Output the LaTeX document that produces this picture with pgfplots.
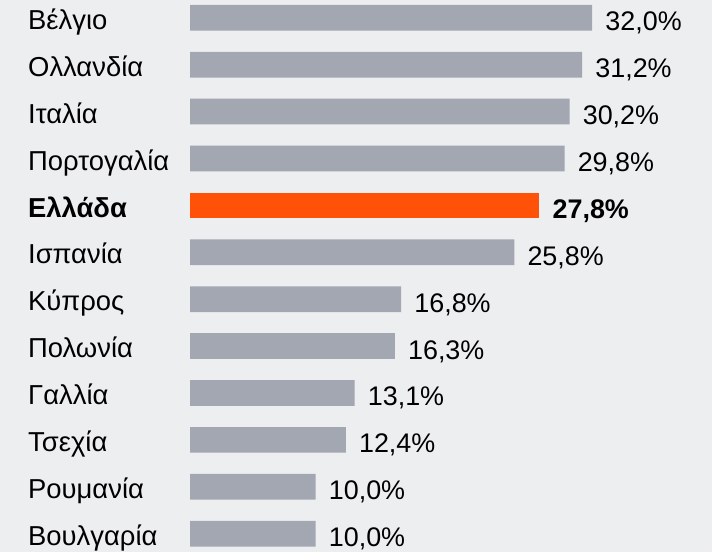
\documentclass[border=0pt]{standalone}
\usepackage{fontspec}
\setmainfont{Liberation Sans}
\usepackage{pgfplots}
\pgfplotsset{compat=1.18}
\definecolor{bg}{HTML}{EDEEF0}
\definecolor{barg}{HTML}{A2A7B2}
\definecolor{gr}{HTML}{FF5208}
\begin{document}
\begin{tikzpicture}
\path[use as bounding box] (0,0) rectangle (712bp,552bp);
\fill[bg] (0,0) rectangle (712bp,552bp);
\begin{axis}[at={(190bp,534.2bp)}, anchor=origin,
  x=12.57bp, y=46.9bp, xmin=0, xmax=35, ymin=-11.5, ymax=0.5,
  clip=false, axis line style={draw=none}, major tick length=0pt,
  xtick=\empty, ytick={-11,-10,...,0},
  yticklabels={Βουλγαρία,Ρουμανία,Τσεχία,Γαλλία,Πολωνία,Κύπρος,Ισπανία,{\bfseries Ελλάδα},Πορτογαλία,Ιταλία,Ολλανδία,Βέλγιο},
  yticklabel style={anchor=base west, inner sep=0pt, xshift=-162bp, yshift=-11.7bp, font=\fontsize{27.5}{32}\selectfont},
  xbar, bar width=25.7bp, bar shift=0pt,
  point meta=explicit symbolic, nodes near coords,
  nodes near coords style={anchor=base west, inner sep=0pt, xshift=13bp, yshift=-13bp, font=\fontsize{27}{32}\selectfont, text=black},
]
\addplot[draw=none, fill=barg] coordinates {
(32.0,0) [32,0\%]
(31.2,-1) [31,2\%]
(30.2,-2) [30,2\%]
(29.8,-3) [29,8\%]
(25.8,-5) [25,8\%]
(16.8,-6) [16,8\%]
(16.3,-7) [16,3\%]
(13.1,-8) [13,1\%]
(12.4,-9) [12,4\%]
(10.0,-10) [10,0\%]
(10.0,-11) [10,0\%]
};
\addplot[draw=none, fill=gr, nodes near coords style={font=\fontsize{27}{32}\selectfont\bfseries}] coordinates {
(27.8,-4) [27,8\%]
};
\end{axis}
\end{tikzpicture}
\end{document}
